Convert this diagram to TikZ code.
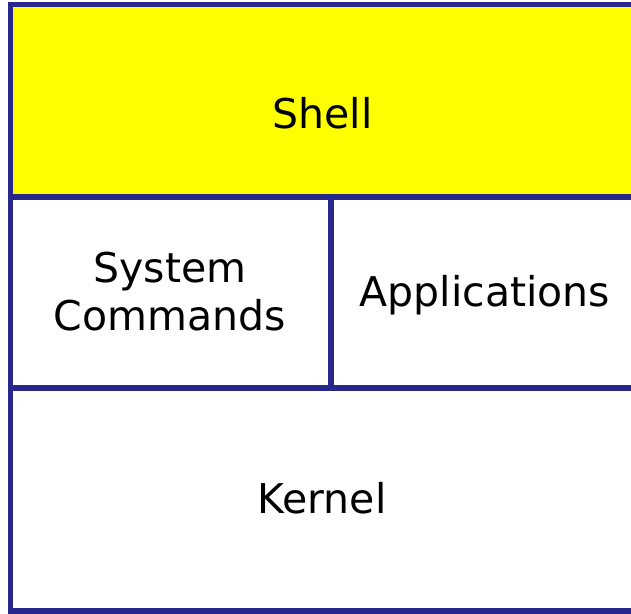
\documentclass[tikz,border=0pt]{standalone}
\usepackage{fontspec}
\setmainfont{DejaVu Sans}
\definecolor{layerblue}{RGB}{40,40,140}
\definecolor{shellyellow}{RGB}{255,255,0}
\begin{document}
\begin{tikzpicture}[
        x=1pt, y=-1pt,
        layer/.style={draw=layerblue, line width=5.5pt, inner sep=0pt, outer sep=0pt},
        layer_text/.style={anchor=base, align=center, inner sep=0pt, font=\fontsize{41}{48}\selectfont}
    ]
	\useasboundingbox (0,0) rectangle (631,613);
	% layer boxes
	\node[layer, fill=shellyellow, minimum width=623.5pt, minimum height=192.5pt] (shell_box) at (322.25,100.75) {};
	\node[layer, minimum width=320.5pt, minimum height=191pt] (cmd_box) at (170.75,292.5) {};
	\node[layer, minimum width=303pt, minimum height=191pt] (app_box) at (482.5,292.5) {};
	\node[layer, minimum width=623.5pt, minimum height=223pt] (kernel_box) at (322.25,499.5) {};
	% labels
	\node[layer_text] (shell) at (322.5,128) {Shell};
	\node[layer_text] (cmd) at (170,330) {System\\Commands};
	\node[layer_text] (app) at (485,306) {Applications};
	\node[layer_text] (kernel) at (322,513) {Kernel};
\end{tikzpicture}
\end{document}
